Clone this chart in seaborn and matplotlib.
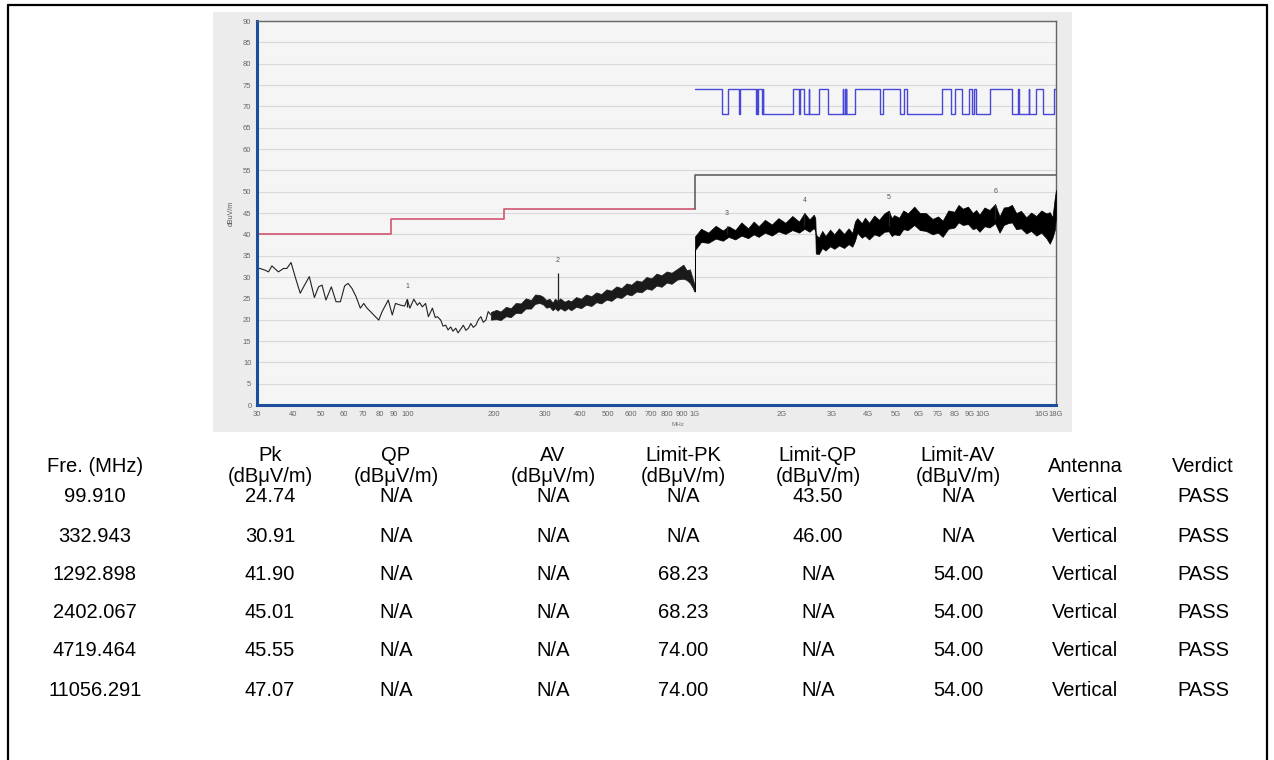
import matplotlib
matplotlib.use("Agg")
import matplotlib.pyplot as plt
import seaborn as sns
import numpy as np
import pandas as pd
from matplotlib.patches import Rectangle
from matplotlib.lines import Line2D

# ---- spectrum trace, 30 - 200 MHz (single line) ----
lf_freq = [30, 30.7, 32.0, 32.9, 33.8, 35.6, 37.1, 38.1, 39.4, 40.7, 42.4, 43.9, 45.6,
           47.5, 49.1, 50.5, 52.1, 54.4, 56.5, 58.5, 60.5, 62.2, 64.2, 66.3, 68.6, 70.5,
           72.4, 74.4, 76.4, 79.5, 81.7, 85.8, 88.6, 90.9, 94.7, 97.8, 99.91, 102.0, 105.3,
           108.3, 110.3, 112.7, 115.7, 118.3, 122.2, 125.0, 127.2, 130.6, 133.0, 135.9,
           138.5, 141.5, 144.0, 147.3, 150.0, 153.3, 156.5, 159.7, 163.0, 166.2, 169.5,
           173.0, 176.5, 180.1, 183.5, 187.5, 191.0, 195.2]
lf_level = [32.0, 32.0, 31.6, 31.2, 32.6, 31.2, 32.0, 32.0, 33.4, 30.1, 26.2, 28.1, 30.1,
            25.2, 27.7, 28.1, 24.6, 27.7, 24.2, 24.2, 27.9, 28.5, 27.3, 25.4, 22.7, 23.8,
            22.7, 21.9, 21.1, 19.9, 21.9, 24.6, 21.1, 23.8, 23.4, 23.2, 24.74, 22.7, 24.8,
            23.4, 24.0, 23.0, 23.8, 20.7, 22.7, 20.5, 20.7, 19.9, 18.5, 18.7, 17.6, 18.3,
            17.3, 18.0, 16.9, 17.8, 18.7, 17.5, 18.0, 19.1, 18.2, 18.7, 20.0, 20.7, 19.4,
            19.9, 21.9, 21.1]

# ---- 200 MHz - 1 GHz, dense noise band (lower / upper edge) ----
mid_freq = [195, 204, 211, 220, 229, 238, 248, 258, 269, 278, 288, 296, 304, 312, 320,
            326, 333, 340, 352, 362, 371, 386, 402, 418, 436, 454, 472, 492, 512, 533,
            555, 578, 601, 626, 652, 678, 706, 735, 765, 797, 829, 868, 911, 935, 960,
            980, 995]
mid_lo = [20.0, 20.1, 19.9, 20.8, 20.6, 21.6, 21.5, 22.6, 22.6, 23.7, 23.9, 23.6, 22.8,
          23.0, 22.2, 22.7, 22.1, 22.7, 22.1, 22.7, 22.2, 23.0, 22.7, 23.5, 23.2, 24.1,
          23.8, 24.7, 24.4, 25.3, 25.1, 26.0, 25.7, 26.6, 26.4, 27.3, 27.0, 28.0, 27.7,
          28.7, 28.4, 29.4, 29.6, 29.3, 28.6, 27.6, 26.6]
mid_hi = [21.8, 22.3, 21.9, 23.0, 22.7, 23.9, 23.8, 25.0, 24.6, 25.9, 25.8, 25.4, 24.6,
          24.9, 24.0, 24.9, 24.4, 25.0, 24.2, 24.6, 24.3, 25.3, 24.9, 25.9, 25.5, 26.4,
          26.0, 27.1, 26.8, 27.8, 27.4, 28.5, 28.2, 29.2, 28.9, 30.0, 29.7, 30.8, 30.4,
          31.3, 31.0, 31.9, 32.9, 31.6, 31.8, 29.8, 28.2]

# ---- 1 GHz - 18 GHz, dense noise band ----
hf_freq = [998, 1000, 1050, 1113, 1180, 1250, 1308, 1380, 1450, 1530, 1600, 1665, 1750,
           1850, 1950, 2062, 2180, 2300, 2402, 2500, 2589, 2620, 2630, 2696, 2770, 2843,
           2950, 3050, 3166, 3300, 3420, 3523, 3600, 3667, 3800, 3900, 4029, 4200, 4366,
           4550, 4719, 4830, 4926, 5128, 5300, 5500, 5784, 6050, 6350, 6700, 7000, 7262,
           7600, 7979, 8250, 8530, 8900, 9243, 9500, 9752, 10150, 10568, 11056, 11454,
           11850, 12243, 12650, 13090, 13600, 14187, 14750, 15375, 16000, 16659, 17122,
           17500, 17820, 18000]
hf_lo = [26.6, 36.3, 38.2, 38.0, 39.0, 38.5, 39.4, 38.8, 39.7, 39.1, 40.0, 39.4, 40.4,
         39.7, 40.7, 40.1, 41.0, 40.4, 41.3, 40.6, 41.5, 40.7, 35.5, 35.4, 36.8, 36.2,
         37.2, 36.6, 37.4, 36.8, 37.7, 37.1, 38.5, 40.4, 39.2, 39.7, 38.8, 40.0, 39.6,
         40.6, 40.7, 39.6, 40.0, 39.8, 41.2, 41.0, 42.2, 41.0, 40.8, 40.0, 40.4, 39.4,
         41.3, 41.6, 42.8, 42.2, 42.4, 41.2, 41.5, 40.6, 41.9, 41.6, 42.6, 40.4, 42.2,
         42.6, 42.8, 41.2, 41.4, 40.2, 40.8, 39.7, 40.4, 39.1, 37.8, 39.2, 41.0, 44.0]
hf_hi = [28.2, 39.5, 41.3, 40.4, 42.0, 40.9, 41.9, 41.0, 42.8, 41.4, 43.0, 41.9, 43.4,
         42.3, 43.8, 42.7, 44.3, 43.0, 45.01, 43.5, 44.6, 43.8, 40.0, 39.2, 40.8, 39.6,
         41.1, 40.0, 41.4, 40.1, 41.4, 40.3, 43.0, 43.8, 42.6, 43.9, 42.7, 44.4, 43.4,
         44.9, 45.55, 43.8, 44.5, 43.9, 45.6, 44.9, 46.5, 45.0, 45.0, 43.6, 44.2, 43.2,
         45.6, 45.3, 46.9, 46.0, 46.5, 45.0, 45.7, 44.6, 46.3, 45.7, 47.07, 44.2, 46.3,
         46.4, 46.9, 45.0, 45.5, 44.0, 45.1, 44.3, 45.6, 44.9, 45.2, 44.0, 48.5, 50.4]

# ---- limit lines ----
qp_freq = [30, 88, 216, 1000]
qp_level = [40, 43.5, 46, 46]
av_freq = [1000, 1000, 18000]
av_level = [46, 54, 54]
# peak limit: 74 inside restricted bands, 68.23 outside
pk_freq = [1000, 1240, 1300, 1427, 1435, 1626.5, 1645.5, 1646.5, 1660, 1710, 1718.8,
           1722.2, 2200, 2300, 2310, 2390, 2483.5, 2500, 2690, 2900, 3260, 3267, 3332,
           3339, 3345.8, 3358, 3600, 4400, 4500, 5150, 5350, 5460, 7250, 7750, 8025,
           8500, 9000, 9200, 9300, 9500, 10600, 12700, 13250, 13400, 14470, 14500,
           15350, 16200, 17700, 18000]
pk_level = [74, 68.23, 74, 68.23, 74, 68.23, 74, 68.23, 74, 68.23, 74, 68.23, 74, 68.23,
            74, 68.23, 74, 68.23, 74, 68.23, 74, 68.23, 74, 68.23, 74, 68.23, 74, 68.23,
            74, 68.23, 74, 68.23, 74, 68.23, 74, 68.23, 74, 68.23, 74, 68.23, 74, 68.23,
            74, 68.23, 74, 68.23, 74, 68.23, 74, 74]

# ---- markers / table ----
mk_freq = [99.910, 332.943, 1292.898, 2402.067, 4719.464, 11056.291]
mk_pk = [24.74, 30.91, 41.90, 45.01, 45.55, 47.07]
spike_base = [23.0, 24.0, 40.0, 42.0, 42.0, 43.5]
mk_qp = ["N/A"] * 6
mk_av = ["N/A"] * 6
lim_pk = ["N/A", "N/A", "68.23", "68.23", "74.00", "74.00"]
lim_qp = ["43.50", "46.00", "N/A", "N/A", "N/A", "N/A"]
lim_av = ["N/A", "N/A", "54.00", "54.00", "54.00", "54.00"]
antenna = ["Vertical"] * 6
verdict = ["PASS"] * 6

xticks = [30, 40, 50, 60, 70, 80, 90, 100, 200, 300, 400, 500, 600, 700, 800, 900,
          1000, 2000, 3000, 4000, 5000, 6000, 7000, 8000, 9000, 10000, 16000, 18000]
xtick_labels = ["30", "40", "50", "60", "70", "80", "90", "100", "200", "300", "400",
                "500", "600", "700", "800", "900", "1G", "2G", "3G", "4G", "5G", "6G",
                "7G", "8G", "9G", "10G", "16G", "18G"]

sns.set_style("white")
plt.rcParams["font.family"] = ["Liberation Sans", "DejaVu Sans"]

W, H = 1274, 760
fig = plt.figure(figsize=(W / 100, H / 100), dpi=100, facecolor="white")

# grey screenshot panel behind the chart
fig.add_artist(Rectangle((213 / W, 1 - 432 / H), (1072 - 213) / W, (432 - 12) / H,
                         transform=fig.transFigure, facecolor="#ececec",
                         edgecolor="none", zorder=-5))

ax = fig.add_axes([257 / W, 1 - 405 / H, (1056 - 257) / W, (405 - 21) / H])
ax.set_zorder(2)
ax.set_facecolor("#f5f5f5")
ax.set_xscale("log")

sns.lineplot(x=lf_freq, y=lf_level, ax=ax, color="#222222", lw=0.8,
             estimator=None, sort=False)
ax.fill_between(mid_freq, mid_lo, mid_hi, color="#1a1a1a", lw=0.5, zorder=3)
ax.fill_between(hf_freq, hf_lo, hf_hi, color="#000000", lw=0.5, zorder=3)
ax.vlines(mk_freq, spike_base, mk_pk, color="#222222", lw=0.9, zorder=3)

sns.lineplot(x=qp_freq, y=qp_level, ax=ax, color="#cf5670", lw=1.2,
             drawstyle="steps-post", estimator=None, sort=False)
sns.lineplot(x=av_freq, y=av_level, ax=ax, color="#555555", lw=1.1,
             estimator=None, sort=False)
sns.lineplot(x=pk_freq, y=pk_level, ax=ax, color="#4848d8", lw=1.0,
             drawstyle="steps-post", estimator=None, sort=False)

for i, (f, p) in enumerate(zip(mk_freq, mk_pk)):
    ax.text(f, p + 3.0, str(i + 1), fontsize=5, color="#555555", ha="center",
            va="center")

ax.set_xlim(30, 18000)
ax.set_ylim(0, 90)
ax.set_yticks(np.arange(0, 91, 5))
ax.set_yticklabels([str(v) for v in range(0, 91, 5)], fontsize=5.5, color="#666666")
ax.set_xticks(xticks)
ax.set_xticklabels(xtick_labels, fontsize=5.5, color="#666666")
ax.xaxis.set_minor_locator(matplotlib.ticker.NullLocator())
ax.tick_params(axis="both", length=2, width=0.6, color="#888888", pad=2)
ax.grid(axis="y", color="#d9d9d9", lw=0.8)
ax.grid(axis="x", visible=False)
ax.set_ylabel("dBuV/m", fontsize=5, color="#555555", labelpad=6)
ax.set_xlabel("MHz", fontsize=4.5, color="#777777", labelpad=1)
ax.xaxis.set_label_coords((678 - 257) / (1056 - 257), -0.045)
for side in ["left", "bottom"]:
    ax.spines[side].set_color("#1d4e9e")
    ax.spines[side].set_linewidth(2.2)
for side in ["top", "right"]:
    ax.spines[side].set_color("#666666")
    ax.spines[side].set_linewidth(1.0)

# ---- outer frame ----
lw_frame = 1.6
fig.add_artist(Line2D([8 / W, 8 / W], [0, 1 - 5 / H], transform=fig.transFigure,
                      color="black", lw=lw_frame))
fig.add_artist(Line2D([1267 / W, 1267 / W], [0, 1 - 5 / H], transform=fig.transFigure,
                      color="black", lw=lw_frame))
fig.add_artist(Line2D([8 / W, 1267 / W], [1 - 5 / H, 1 - 5 / H],
                      transform=fig.transFigure, color="black", lw=lw_frame))

# ---- table ----
col_x = [95, 270, 396, 553, 683, 818, 958, 1085, 1203]
headers = ["Fre. (MHz)", "Pk\n(dBμV/m)", "QP\n(dBμV/m)", "AV\n(dBμV/m)",
           "Limit-PK\n(dBμV/m)", "Limit-QP\n(dBμV/m)", "Limit-AV\n(dBμV/m)",
           "Antenna", "Verdict"]
row_y = [497, 536, 575, 613, 651, 690]
tfs = 14.5
for x, h in zip(col_x, headers):
    fig.text(x / W, 1 - 466 / H, h, ha="center", va="center", fontsize=tfs,
             linespacing=1.1, color="black")

table = pd.DataFrame({
    "freq": [f"{v:.3f}" for v in mk_freq],
    "pk": [f"{v:.2f}" for v in mk_pk],
    "qp": mk_qp, "av": mk_av, "lpk": lim_pk, "lqp": lim_qp, "lav": lim_av,
    "ant": antenna, "ver": verdict,
})
for r, y in enumerate(row_y):
    for c, x in enumerate(col_x):
        fig.text(x / W, 1 - y / H, table.iloc[r, c], ha="center", va="center",
                 fontsize=tfs, color="black")

fig.savefig("out.png", dpi=100, facecolor="white")
